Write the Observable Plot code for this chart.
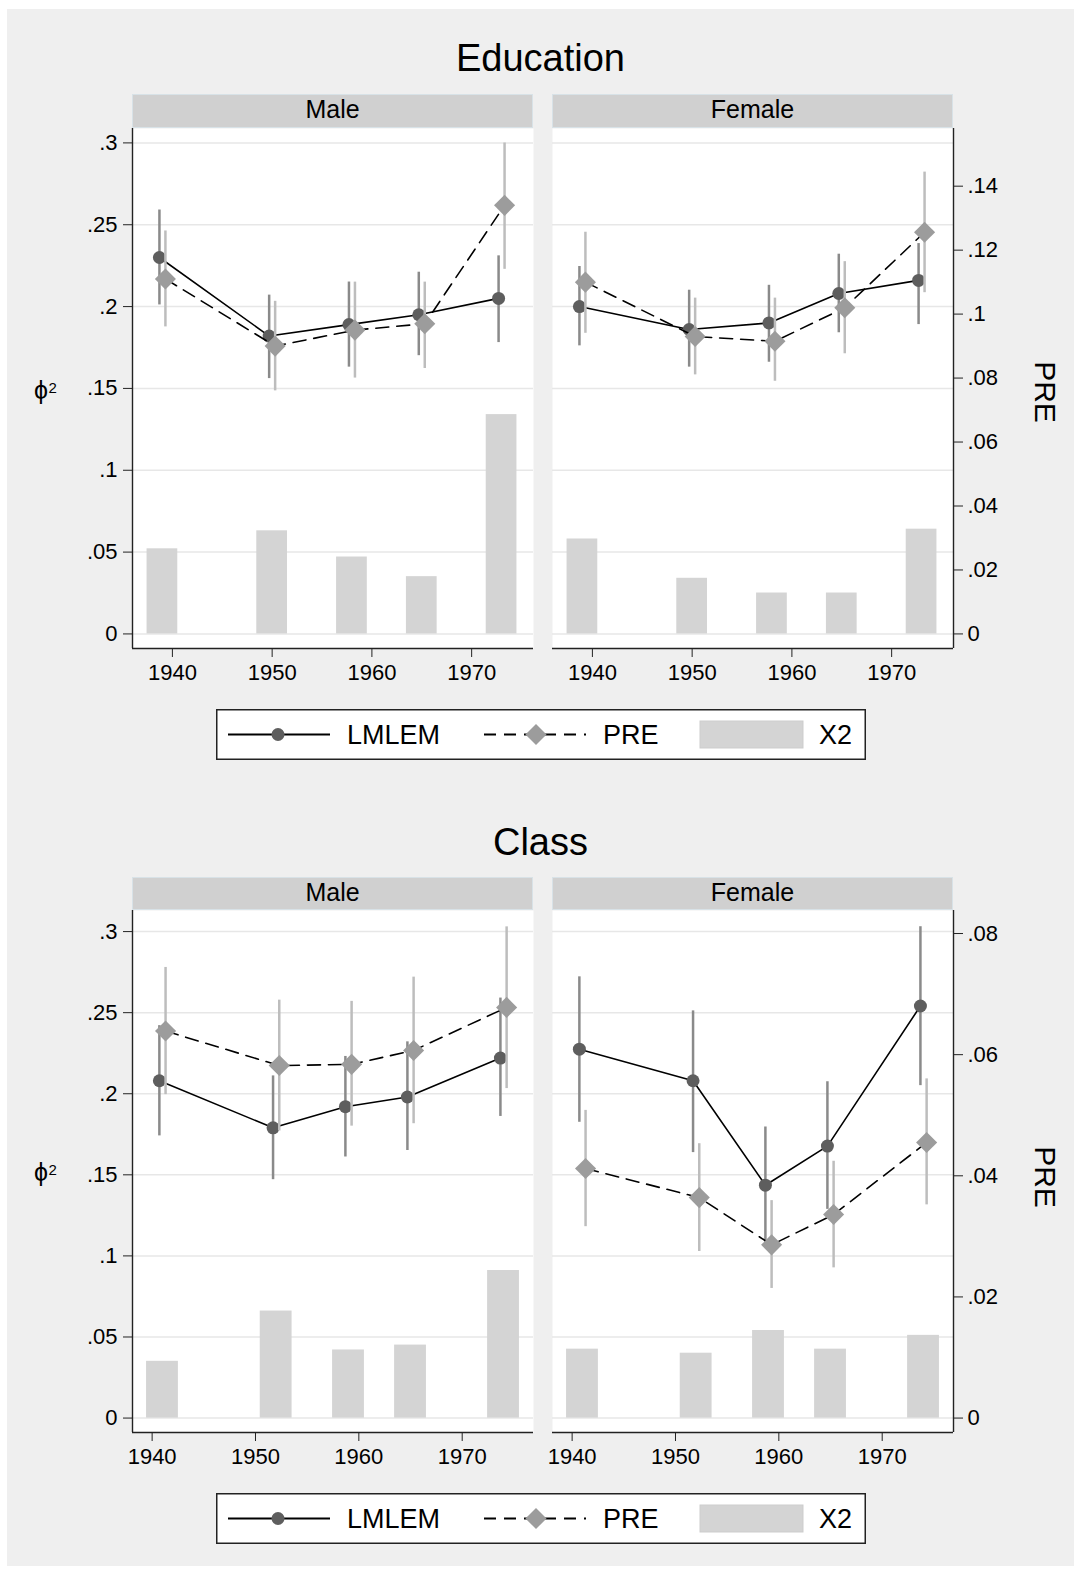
<!DOCTYPE html>
<html>
<head>
<meta charset="utf-8">
<script src="https://cdn.jsdelivr.net/npm/d3@7"></script>
<script src="https://cdn.jsdelivr.net/npm/@observablehq/plot@0.6"></script>
<style>
  html, body { margin: 0; padding: 0; background: #ffffff; }
  body { position: relative; width: 1081px; height: 1573px; overflow: hidden;
         font-family: "Liberation Sans", Arial, Helvetica, sans-serif; color: #000; }
  #bg { position: absolute; left: 7px; top: 9px; width: 1067px; height: 1557px; background: #efefef; }
  .t { position: absolute; line-height: 1; white-space: nowrap; color: #000; }
  .strip { position: absolute; background: #d0d0d0; box-shadow: inset 0 0 0 1px #d8e2e7; }
  .plotwrap { position: absolute; left: 0; }
</style>
</head>
<body>
<div id="bg"></div>
<script>
// ---------------- data ----------------
const sexes = ["Male", "Female"];
const seriesNames = ["LMLEM", "PRE", "X2"];
const xTicks = [1940, 1950, 1960, 1970];
const phiTicks = [0, 0.05, 0.1, 0.15, 0.2, 0.25, 0.3];

// Education: [value, lower, upper]
const eduYears = [1939, 1950, 1958, 1965, 1973];
const eduMaleLMLEM = [[0.230,0.201,0.259],[0.182,0.156,0.207],[0.189,0.163,0.215],[0.195,0.170,0.221],[0.205,0.178,0.231]];
const eduMalePRE = [[0.111,0.096,0.126],[0.090,0.076,0.104],[0.095,0.080,0.110],[0.097,0.083,0.110],[0.134,0.114,0.1535]];
const eduMaleX2 = [0.052,0.063,0.047,0.035,0.134];
const eduFemaleLMLEM = [[0.200,0.176,0.2245],[0.186,0.163,0.210],[0.190,0.166,0.213],[0.208,0.184,0.232],[0.216,0.189,0.2385]];
const eduFemalePRE = [[0.110,0.094,0.1256],[0.093,0.081,0.105],[0.0915,0.079,0.105],[0.102,0.0876,0.1164],[0.1256,0.1067,0.1444]];
const eduFemaleX2 = [0.058,0.034,0.025,0.025,0.064];
const eduPreTicks = [0, 0.02, 0.04, 0.06, 0.08, 0.10, 0.12, 0.14];

// Class: [value, lower, upper]
const clsYears = [1941, 1952, 1959, 1965, 1974];
const clsMaleLMLEM = [[0.208,0.174,0.242],[0.179,0.147,0.211],[0.192,0.161,0.223],[0.198,0.165,0.232],[0.222,0.186,0.259]];
const clsMalePRE = [[0.0639,0.0534,0.0744],[0.0582,0.0474,0.0690],[0.0584,0.0482,0.0688],[0.0607,0.0486,0.0728],[0.0678,0.0544,0.0811]];
const clsMaleX2 = [0.035,0.066,0.042,0.045,0.091];
const clsFemaleLMLEM = [[0.2275,0.1824,0.2721],[0.208,0.1637,0.2511],[0.1436,0.1075,0.1795],[0.1677,0.1287,0.2074],[0.2541,0.205,0.303]];
const clsFemalePRE = [[0.0412,0.0316,0.0508],[0.0364,0.0275,0.0453],[0.0286,0.0214,0.0359],[0.0336,0.0248,0.0424],[0.0455,0.0352,0.0560]];
const clsFemaleX2 = [0.0425,0.040,0.054,0.0425,0.051];
const clsPreTicks = [0, 0.02, 0.04, 0.06, 0.08];

// ---------------- helpers ----------------
const FONT = '"Liberation Sans", Arial, Helvetica, sans-serif';
const fmt = d => (Math.abs(d) < 1e-9 ? "0" : d3.format(".3~f")(d).replace(/^0\./, ".").replace(/^-0\./, "-."));

function rows(sex, years, lm, pre, x2) {
  return years.map((yr, i) => ({
    sex, year: yr,
    lm: lm[i][0], lmLo: lm[i][1], lmHi: lm[i][2],
    pre: pre[i][0], preLo: pre[i][1], preHi: pre[i][2],
    x2: x2[i]
  }));
}

function addText(txt, x, baseline, size, anchor) {
  const d = document.createElement("div");
  d.className = "t";
  d.textContent = txt;
  d.style.fontSize = size + "px";
  d.style.left = x + "px";
  d.style.top = (baseline - 0.8465 * size) + "px";
  if (anchor === "middle") d.style.transform = "translateX(-50%)";
  document.body.appendChild(d);
  return d;
}

function addRotated(txt, cx, cy, size) {
  const d = document.createElement("div");
  d.className = "t";
  d.textContent = txt;
  d.style.fontSize = size + "px";
  d.style.left = cx + "px";
  d.style.top = cy + "px";
  d.style.transform = "translate(-50%,-50%) rotate(90deg)";
  document.body.appendChild(d);
}

const dotR = 6.5, diamondR = 9.5;

function addLegend(top) {
  const svg = d3.create("svg")
    .attr("width", 650).attr("height", 51)
    .style("position", "absolute").style("left", "216px").style("top", top + "px")
    .style("font-family", FONT);
  svg.append("rect").attr("x", 0.75).attr("y", 0.75).attr("width", 648.5).attr("height", 49.5)
    .attr("fill", "#fff").attr("stroke", "#222").attr("stroke-width", 1.5);
  const cy = 25.5;
  // LMLEM
  svg.append("line").attr("x1", 12).attr("x2", 114).attr("y1", cy).attr("y2", cy).attr("stroke", "#000").attr("stroke-width", 1.8);
  svg.append("circle").attr("cx", 62).attr("cy", cy).attr("r", dotR).attr("fill", "#5e5e5e");
  svg.append("text").attr("x", 131).attr("y", cy + 9.7).attr("font-size", 27).text(seriesNames[0]);
  // PRE
  svg.append("line").attr("x1", 268).attr("x2", 370).attr("y1", cy).attr("y2", cy).attr("stroke", "#000").attr("stroke-width", 1.8).attr("stroke-dasharray", "12,8");
  svg.append("path").attr("d", d3.symbol(d3.symbolDiamond2, diamondR * diamondR * Math.PI)()).attr("transform", `translate(320,${cy})`).attr("fill", "#9c9c9c");
  svg.append("text").attr("x", 387).attr("y", cy + 9.7).attr("font-size", 27).text(seriesNames[1]);
  // X2
  svg.append("rect").attr("x", 484).attr("y", 12).attr("width", 103).attr("height", 27).attr("fill", "#d4d4d4").attr("stroke", "#cdcdcd");
  svg.append("text").attr("x", 603).attr("y", cy + 9.7).attr("font-size", 27).text(seriesNames[2]);
  document.body.appendChild(svg.node());
}

const lmOff = -0.3, preOff = 0.3, barW = 3.08;

function section(cfg) {
  const data = [
    ...rows("Male", cfg.years, cfg.maleLM, cfg.malePRE, cfg.maleX2),
    ...rows("Female", cfg.years, cfg.femaleLM, cfg.femalePRE, cfg.femaleX2)
  ];
  const k = cfg.k;
  const chart = Plot.plot({
    width: 1081,
    height: cfg.height,
    marginLeft: 132,
    marginRight: 127,
    marginTop: cfg.stripH,
    marginBottom: 46,
    style: { background: "transparent", fontFamily: FONT, fontSize: "22px", color: "#000", overflow: "visible" },
    fx: { domain: sexes, paddingInner: 0.0452, paddingOuter: 0, axis: null, label: null },
    x: { domain: cfg.xDomain },
    y: { domain: cfg.yDomain },
    marks: [
      Plot.frame({ fill: "white", stroke: "none" }),
      Plot.gridY(phiTicks, { stroke: "#e7e7e7", strokeOpacity: 1, strokeWidth: 1.5 }),
      Plot.rect(data, { fx: "sex", x1: d => d.year - barW / 2, x2: d => d.year + barW / 2, y1: 0, y2: "x2", fill: "#d4d4d4" }),
      Plot.ruleX(data, { fx: "sex", x: d => d.year + lmOff, y1: "lmLo", y2: "lmHi", stroke: "#8a8a8a", strokeWidth: 2.5 }),
      Plot.line(data, { fx: "sex", x: d => d.year + lmOff, y: "lm", stroke: "#000", strokeWidth: 1.6 }),
      Plot.dot(data, { fx: "sex", x: d => d.year + lmOff, y: "lm", r: dotR, fill: "#5e5e5e", stroke: "none" }),
      Plot.ruleX(data, { fx: "sex", x: d => d.year + preOff, y1: d => d.preLo * k, y2: d => d.preHi * k, stroke: "#bdbdbd", strokeWidth: 2.5 }),
      Plot.line(data, { fx: "sex", x: d => d.year + preOff, y: d => d.pre * k, stroke: "#000", strokeWidth: 1.6, strokeDasharray: "13,8" }),
      Plot.dot(data, { fx: "sex", x: d => d.year + preOff, y: d => d.pre * k, r: diamondR, symbol: "diamond2", fill: "#9c9c9c", stroke: "none" }),
      // axis lines
      Plot.ruleX([{ sex: "Male" }], { fx: "sex", x: () => cfg.xDomain[0], stroke: "#222", strokeWidth: 1.4 }),
      Plot.ruleX([{ sex: "Female" }], { fx: "sex", x: () => cfg.xDomain[1], stroke: "#222", strokeWidth: 1.4 }),
      Plot.ruleY([cfg.yDomain[0]], { stroke: "#222", strokeWidth: 1.4 }),
      // axes
      Plot.axisY(phiTicks, { anchor: "left", facetAnchor: "left", tickFormat: fmt, tickSize: 9, tickPadding: 6, fontSize: 22, label: null, stroke: "#222" }),
      Plot.axisY(cfg.preTicks.map(t => t * k), { anchor: "right", facetAnchor: "right", tickFormat: d => fmt(Math.round(d / k * 1000) / 1000), tickSize: 9, tickPadding: 5, fontSize: 22, label: null, stroke: "#222" }),
      Plot.axisX(xTicks, { anchor: "bottom", tickFormat: d => String(d), tickSize: 9, tickPadding: 7, fontSize: 22, label: null, stroke: "#222" })
    ]
  });

  // strips (facet headers) positioned with the fx scale
  let fxs = null;
  try { fxs = chart.scale("fx"); } catch (e) { fxs = null; }
  const band = d3.scaleBand().domain(sexes).range([132, 954]).paddingInner(0.0452).paddingOuter(0);
  sexes.forEach(s => {
    let left = band(s), w = band.bandwidth();
    if (fxs && typeof fxs.apply === "function" && isFinite(fxs.apply(s)) && fxs.bandwidth) {
      left = fxs.apply(s); w = fxs.bandwidth;
    }
    const st = document.createElement("div");
    st.className = "strip";
    st.style.left = left + "px";
    st.style.top = cfg.top + "px";
    st.style.width = w + "px";
    st.style.height = cfg.stripH + "px";
    document.body.appendChild(st);
    addText(s, left + w / 2, cfg.top + 24.5, 25, "middle");
  });

  const wrap = document.createElement("div");
  wrap.className = "plotwrap";
  wrap.style.top = cfg.top + "px";
  wrap.appendChild(chart);
  document.body.appendChild(wrap);

  addText(cfg.title, 540.5, cfg.titleBaseline, 38, "middle");
  addText("ϕ", 34, cfg.phiBaseline, 25);
  addText("2", 48.5, cfg.phiBaseline - 6.5, 15);
  addRotated("PRE", 1044.5, cfg.preCenter, 30);
  addLegend(cfg.legendTop);
}

section({
  title: "Education", titleBaseline: 71,
  top: 94, stripH: 34, height: 600,
  xDomain: [1936, 1976.2], yDomain: [-0.0089, 0.3088], k: 1.954,
  years: eduYears,
  maleLM: eduMaleLMLEM, malePRE: eduMalePRE, maleX2: eduMaleX2,
  femaleLM: eduFemaleLMLEM, femalePRE: eduFemalePRE, femaleX2: eduFemaleX2,
  preTicks: eduPreTicks,
  phiBaseline: 398.7, preCenter: 392, legendTop: 709
});

section({
  title: "Class", titleBaseline: 855,
  top: 877, stripH: 33, height: 601,
  xDomain: [1938.1, 1976.9], yDomain: [-0.0089, 0.3130], k: 3.735,
  years: clsYears,
  maleLM: clsMaleLMLEM, malePRE: clsMalePRE, maleX2: clsMaleX2,
  femaleLM: clsFemaleLMLEM, femalePRE: clsFemalePRE, femaleX2: clsFemaleX2,
  preTicks: clsPreTicks,
  phiBaseline: 1181.5, preCenter: 1177, legendTop: 1493
});
</script>
</body>
</html>
